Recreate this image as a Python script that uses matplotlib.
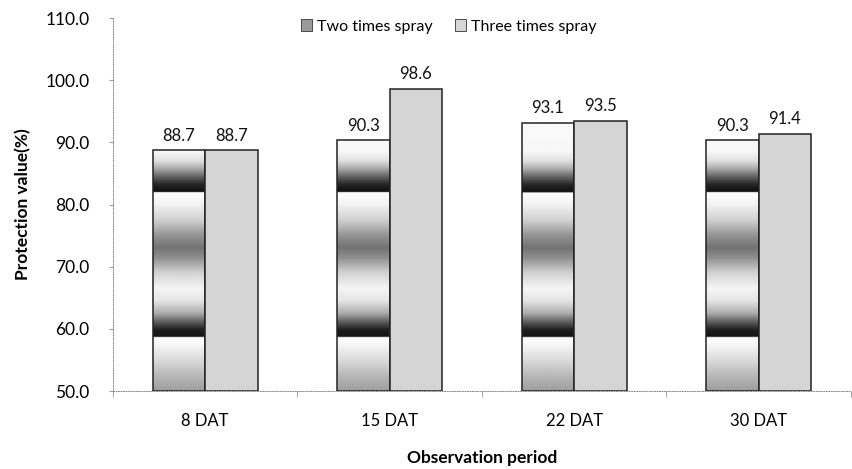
import numpy as np
import matplotlib
matplotlib.use("Agg")
import matplotlib.pyplot as plt
from matplotlib.patches import Patch

plt.rcParams['font.family'] = ['Lato', 'DejaVu Sans']

periods = ["8 DAT", "15 DAT", "22 DAT", "30 DAT"]
two_times = [88.7, 90.3, 93.1, 90.3]
three_times = [88.7, 98.6, 93.5, 91.4]
series_names = ["Two times spray", "Three times spray"]
y_ticks = [50, 60, 70, 80, 90, 100, 110]

# banded grey "chrome" shading used for the first series (value -> grey level)
shade_pos = [50, 52, 55, 57.5, 58.6, 58.7, 59.8, 61, 62.5, 64.5, 66.5, 69, 71.5,
             73, 75, 77.5, 80, 81.9, 82.0, 83.2, 84.5, 85.8, 87, 88.5, 111]
shade_val = [0.62, 0.70, 0.86, 0.97, 1.0, 0.08, 0.12, 0.35, 0.68, 0.9, 0.96,
             0.82, 0.55, 0.45, 0.58, 0.82, 0.95, 1.0, 0.06, 0.15, 0.4, 0.68,
             0.88, 0.97, 1.0]

fig = plt.figure(figsize=(8.52, 4.69), dpi=100)
ax = fig.add_axes([0.1326, 0.1663, 0.866, 0.7953])

x = np.arange(len(periods))
w = 0.284

ygrid = np.linspace(50, 111, 600)
grey = np.interp(ygrid, shade_pos, shade_val)[::-1].reshape(-1, 1)

bars1 = ax.bar(x - w / 2, np.array(two_times) - 50, w, bottom=50,
               facecolor='none', edgecolor='#222222', linewidth=1.1, zorder=3)
bars2 = ax.bar(x + w / 2, np.array(three_times) - 50, w, bottom=50,
               facecolor='#d5d5d5', edgecolor='#222222', linewidth=1.1, zorder=3)

for b in bars1:
    im = ax.imshow(grey, cmap='gray', vmin=0, vmax=1, aspect='auto',
                   extent=[b.get_x(), b.get_x() + b.get_width(), 50, 111],
                   interpolation='bilinear', zorder=2)
    im.set_clip_path(b)

for bars, vals in ((bars1, two_times), (bars2, three_times)):
    for b, v in zip(bars, vals):
        ax.text(b.get_x() + b.get_width() / 2, v + 1.1, f"{v:.1f}",
                ha='center', va='bottom', fontsize=12, color='#111111')

ax.set_xlim(-0.5, len(periods) - 0.5)
ax.set_ylim(50, 110)
ax.set_yticks(y_ticks)
ax.set_yticklabels([f"{t:.1f}" for t in y_ticks], fontsize=12.5)
ax.set_xticks(x)
ax.set_xticklabels(periods, fontsize=12)
ax.set_xticks(np.arange(len(periods) + 1) - 0.5, minor=True)
ax.tick_params(axis='x', which='major', length=0, pad=16)
ax.tick_params(axis='x', which='minor', length=4, color='#999999', direction='out')
ax.tick_params(axis='y', length=3, color='#999999', pad=14)

for side in ('top', 'right'):
    ax.spines[side].set_visible(False)
for side in ('left', 'bottom'):
    ax.spines[side].set_linestyle((0, (1, 1.6)))
    ax.spines[side].set_color('#8a8a8a')
    ax.spines[side].set_linewidth(0.7)

ax.set_ylabel("Protection value(%)", fontsize=12.5, fontweight='bold', labelpad=10)
ax.set_xlabel("Observation period", fontsize=12.5, fontweight='bold', labelpad=15)

handles = [Patch(facecolor='#9a9a9a', edgecolor='#333333', linewidth=0.6),
           Patch(facecolor='#d5d5d5', edgecolor='#333333', linewidth=0.6)]
ax.legend(handles, series_names, loc='upper center', bbox_to_anchor=(0.455, 1.035),
          ncol=2, frameon=False, fontsize=11.5, handlelength=0.7, handleheight=0.7,
          handletextpad=0.3, columnspacing=1.4)

fig.savefig("out.png", dpi=100)
